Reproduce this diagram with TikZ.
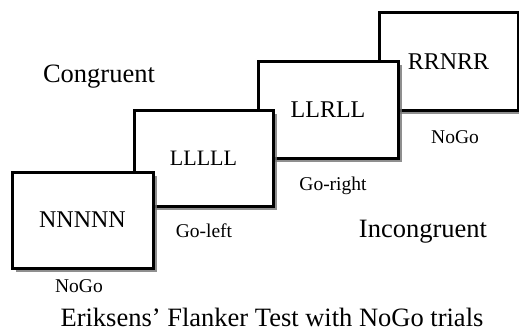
\documentclass[tikz,border=0pt]{standalone}
\usepackage{fontspec}
\setmainfont{Liberation Serif}
\usetikzlibrary{shadows}
\tikzset{
  trialbox/.style={draw=black, fill=white, line width=3pt, rectangle,
    inner sep=0pt, outer sep=0pt,
    drop shadow={shadow xshift=3.5pt, shadow yshift=-3.5pt, fill=black!55, opacity=0.8}},
  boxtext/.style={font=\fontsize{24}{28}\selectfont},
  small/.style={font=\fontsize{19.5}{23}\selectfont, anchor=base, inner sep=0pt},
  big/.style={font=\fontsize{26.5}{30}\selectfont, anchor=base, inner sep=0pt}
}
\begin{document}
\begin{tikzpicture}[x=1pt, y=-1pt]
\useasboundingbox (0,0) rectangle (519,329);
\node[trialbox, boxtext, minimum width=139pt, minimum height=97pt] (b4) at (448.5,61.5) {RRNRR};
\node[trialbox, boxtext, minimum width=140pt, minimum height=96pt] (b3) at (328,110) {LLRLL};
\node[trialbox, font=\fontsize{22}{26}\selectfont, minimum width=139pt, minimum height=96pt] (b2) at (203.5,158) {LLLLL};
\node[trialbox, boxtext, minimum width=141pt, minimum height=96pt] (b1) at (82.5,220) {NNNNN};
\node[big] (cong) at (99,82.5) {Congruent};
\node[big] (incong) at (423,237.5) {Incongruent};
\node[small] (l1) at (79,292) {NoGo};
\node[small] (l2) at (204,237) {Go-left};
\node[small] (l3) at (333,190) {Go-right};
\node[small] (l4) at (455,143) {NoGo};
\node[big] (title) at (272,326) {Eriksens’ Flanker Test with NoGo trials};
\end{tikzpicture}
\end{document}
